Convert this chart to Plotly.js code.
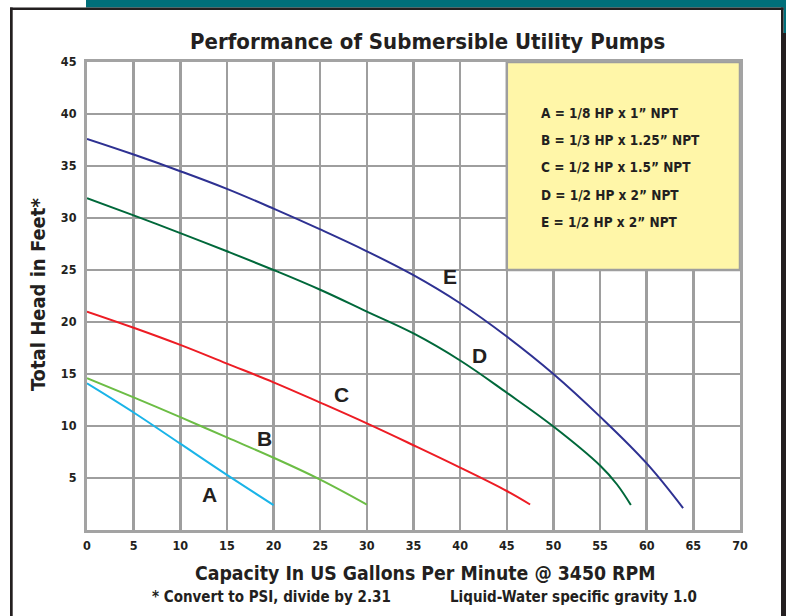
<!DOCTYPE html>
<html>
<head>
<meta charset="utf-8">
<script src="https://cdn.plot.ly/plotly-3.0.1.min.js"></script>
<style>html,body{margin:0;padding:0;background:#fff;}#chart{width:786px;height:616px;}</style>
</head>
<body>
<div id="chart"></div>
<script>
// Data
const gpmA = [0, 5, 10, 15, 20];
const headA = [14.1, 11.3, 8.3, 5.3, 2.4];
const gpmB = [0, 5, 10, 15, 20, 25, 30];
const headB = [14.6, 12.75, 10.85, 8.9, 6.95, 4.85, 2.45];
const gpmC = [0, 5, 10, 15, 20, 25, 30, 35, 40, 45, 47.5];
const headC = [21.0, 19.45, 17.8, 16.0, 14.2, 12.25, 10.25, 8.15, 6.0, 3.75, 2.45];
const gpmD = [0, 5, 10, 15, 20, 25, 30, 35, 40, 45, 50, 55, 56.8, 58.3];
const headD = [31.9, 30.25, 28.55, 26.8, 25.0, 23.1, 21.0, 18.9, 16.3, 13.2, 9.95, 6.2, 4.4, 2.4];
const gpmE = [0, 5, 10, 15, 20, 25, 30, 35, 40, 45, 50, 55, 60, 63.9];
const headE = [37.6, 36.1, 34.5, 32.8, 30.9, 28.9, 26.8, 24.5, 21.8, 18.6, 15.0, 10.9, 6.4, 2.1];

const curveNames = ["A", "B", "C", "D", "E"];
const curveColors = ["#1ab4e8", "#6cbd45", "#ed1c24", "#00683a", "#2e3192"];
const curveLabelX = [13.1, 19.0, 27.3, 42.1, 38.9];
const curveLabelY = [3.45, 8.8, 13.0, 16.8, 24.4];
const legendLines = [
  "A = 1/8 HP x 1\u201d NPT",
  "B = 1/3 HP x 1.25\u201d NPT",
  "C = 1/2 HP x 1.5\u201d NPT",
  "D = 1/2 HP x 2\u201d NPT",
  "E = 1/2 HP x 2\u201d NPT"
];
const xTicks = [0, 5, 10, 15, 20, 25, 30, 35, 40, 45, 50, 55, 60, 65, 70];
const yTicks = [5, 10, 15, 20, 25, 30, 35, 40, 45];

const titleText = "Performance of Submersible Utility Pumps";
const xTitleText = "Capacity In US Gallons Per Minute @ 3450 RPM";
const yTitleText = "Total Head in Feet*";
const note1 = "* Convert to PSI, divide by 2.31";
const note2 = "Liquid-Water specific gravity 1.0";

const NARROW = "Liberation Sans Narrow, Arial Narrow, DejaVu Sans Condensed, sans-serif";
const WIDE = "Liberation Sans, Arial, sans-serif";
const INK = "#231f20";

const W = 786, H = 616;
const M = {l: 87, r: 46, t: 62, b: 86};
const PW = W - M.l - M.r, PH = H - M.t - M.b;
const px = v => (v - M.l) / PW;
const py = v => (H - M.b - v) / PH;

const xs = [gpmA, gpmB, gpmC, gpmD, gpmE];
const ys = [headA, headB, headC, headD, headE];
const traces = xs.map((x, i) => ({
  x: x, y: ys[i], type: "scatter", mode: "lines", name: curveNames[i],
  line: {color: curveColors[i], width: 2, shape: "spline", smoothing: 1.1},
  hoverinfo: "skip"
}));

const annotations = [];
curveNames.forEach((n, i) => annotations.push({
  x: curveLabelX[i], y: curveLabelY[i], xref: "x", yref: "y", text: n, showarrow: false,
  font: {family: WIDE, size: 21, weight: 700, color: INK}
}));
const legendY = [40.1, 37.5, 34.9, 32.25, 29.6];
legendLines.forEach((t, i) => annotations.push({
  x: 48.4, y: legendY[i], xref: "x", yref: "y", text: t, showarrow: false,
  xanchor: "left", yanchor: "middle",
  font: {family: NARROW, size: 13.5, weight: 700, color: INK}
}));
annotations.push({x: px(427), y: py(42), xref: "paper", yref: "paper", text: titleText, showarrow: false,
  xanchor: "center", yanchor: "middle", font: {family: NARROW, size: 22, weight: 700, color: INK}});
annotations.push({x: px(425), y: py(573), xref: "paper", yref: "paper", text: xTitleText, showarrow: false,
  xanchor: "center", yanchor: "middle", font: {family: NARROW, size: 19.3, weight: 700, color: INK}});
annotations.push({x: px(150), y: py(597), xref: "paper", yref: "paper", text: note1, showarrow: false,
  xanchor: "left", yanchor: "middle", font: {family: NARROW, size: 15, weight: 700, color: INK}});
annotations.push({x: px(448), y: py(597), xref: "paper", yref: "paper", text: note2, showarrow: false,
  xanchor: "left", yanchor: "middle", font: {family: NARROW, size: 15, weight: 700, color: INK}});
annotations.push({x: px(38), y: py(295), xref: "paper", yref: "paper", text: yTitleText, showarrow: false,
  textangle: -90, xanchor: "center", yanchor: "middle", font: {family: NARROW, size: 20, weight: 700, color: INK}});

const shapes = [
  // teal top bar
  {type: "rect", xref: "paper", yref: "paper", x0: px(86), x1: px(786), y0: py(0), y1: py(7.5), fillcolor: "#006f7a", line: {width: 0}},
  {type: "rect", xref: "paper", yref: "paper", x0: px(783.5), x1: px(786), y0: py(0), y1: py(33), fillcolor: "#006f7a", line: {width: 0}},
  // dark frame
  {type: "rect", xref: "paper", yref: "paper", x0: px(10), x1: px(783.5), y0: py(7.5), y1: py(10), fillcolor: INK, line: {width: 0}},
  {type: "rect", xref: "paper", yref: "paper", x0: px(10), x1: px(12.7), y0: py(7.5), y1: py(616), fillcolor: INK, line: {width: 0}},
  {type: "rect", xref: "paper", yref: "paper", x0: px(781), x1: px(783.5), y0: py(7.5), y1: py(33), fillcolor: INK, line: {width: 0}},
  {type: "rect", xref: "paper", yref: "paper", x0: px(781), x1: px(786), y0: py(33), y1: py(616), fillcolor: INK, line: {width: 0}},
  // yellow key box
  {type: "rect", xref: "x", yref: "y", x0: 45, x1: 70, y0: 25, y1: 45, fillcolor: "#fff6a8", layer: "above",
   line: {color: "#9e9e9e", width: 2.5}}
];

const layout = {
  width: W, height: H, margin: M,
  paper_bgcolor: "#ffffff", plot_bgcolor: "#ffffff",
  showlegend: false,
  xaxis: {
    range: [0, 70], tickvals: xTicks, ticktext: xTicks.map(String), showgrid: true,
    gridcolor: "#9e9e9e", gridwidth: 2.5, zeroline: false, showline: true, mirror: true,
    linecolor: "#a3a3a3", linewidth: 3, ticks: "", ticklabelstandoff: 2,
    tickfont: {family: NARROW, size: 12.5, weight: 700, color: INK}, fixedrange: true
  },
  yaxis: {
    range: [0, 45], tickvals: yTicks, ticktext: yTicks.map(String), showgrid: true,
    gridcolor: "#9e9e9e", gridwidth: 2.5, zeroline: false, showline: true, mirror: true,
    linecolor: "#a3a3a3", linewidth: 3, ticks: "", ticklabelstandoff: 5,
    tickfont: {family: NARROW, size: 12.5, weight: 700, color: INK}, fixedrange: true
  },
  annotations: annotations,
  shapes: shapes
};

Plotly.newPlot("chart", traces, layout, {displayModeBar: false, staticPlot: true});
</script>
</body>
</html>
